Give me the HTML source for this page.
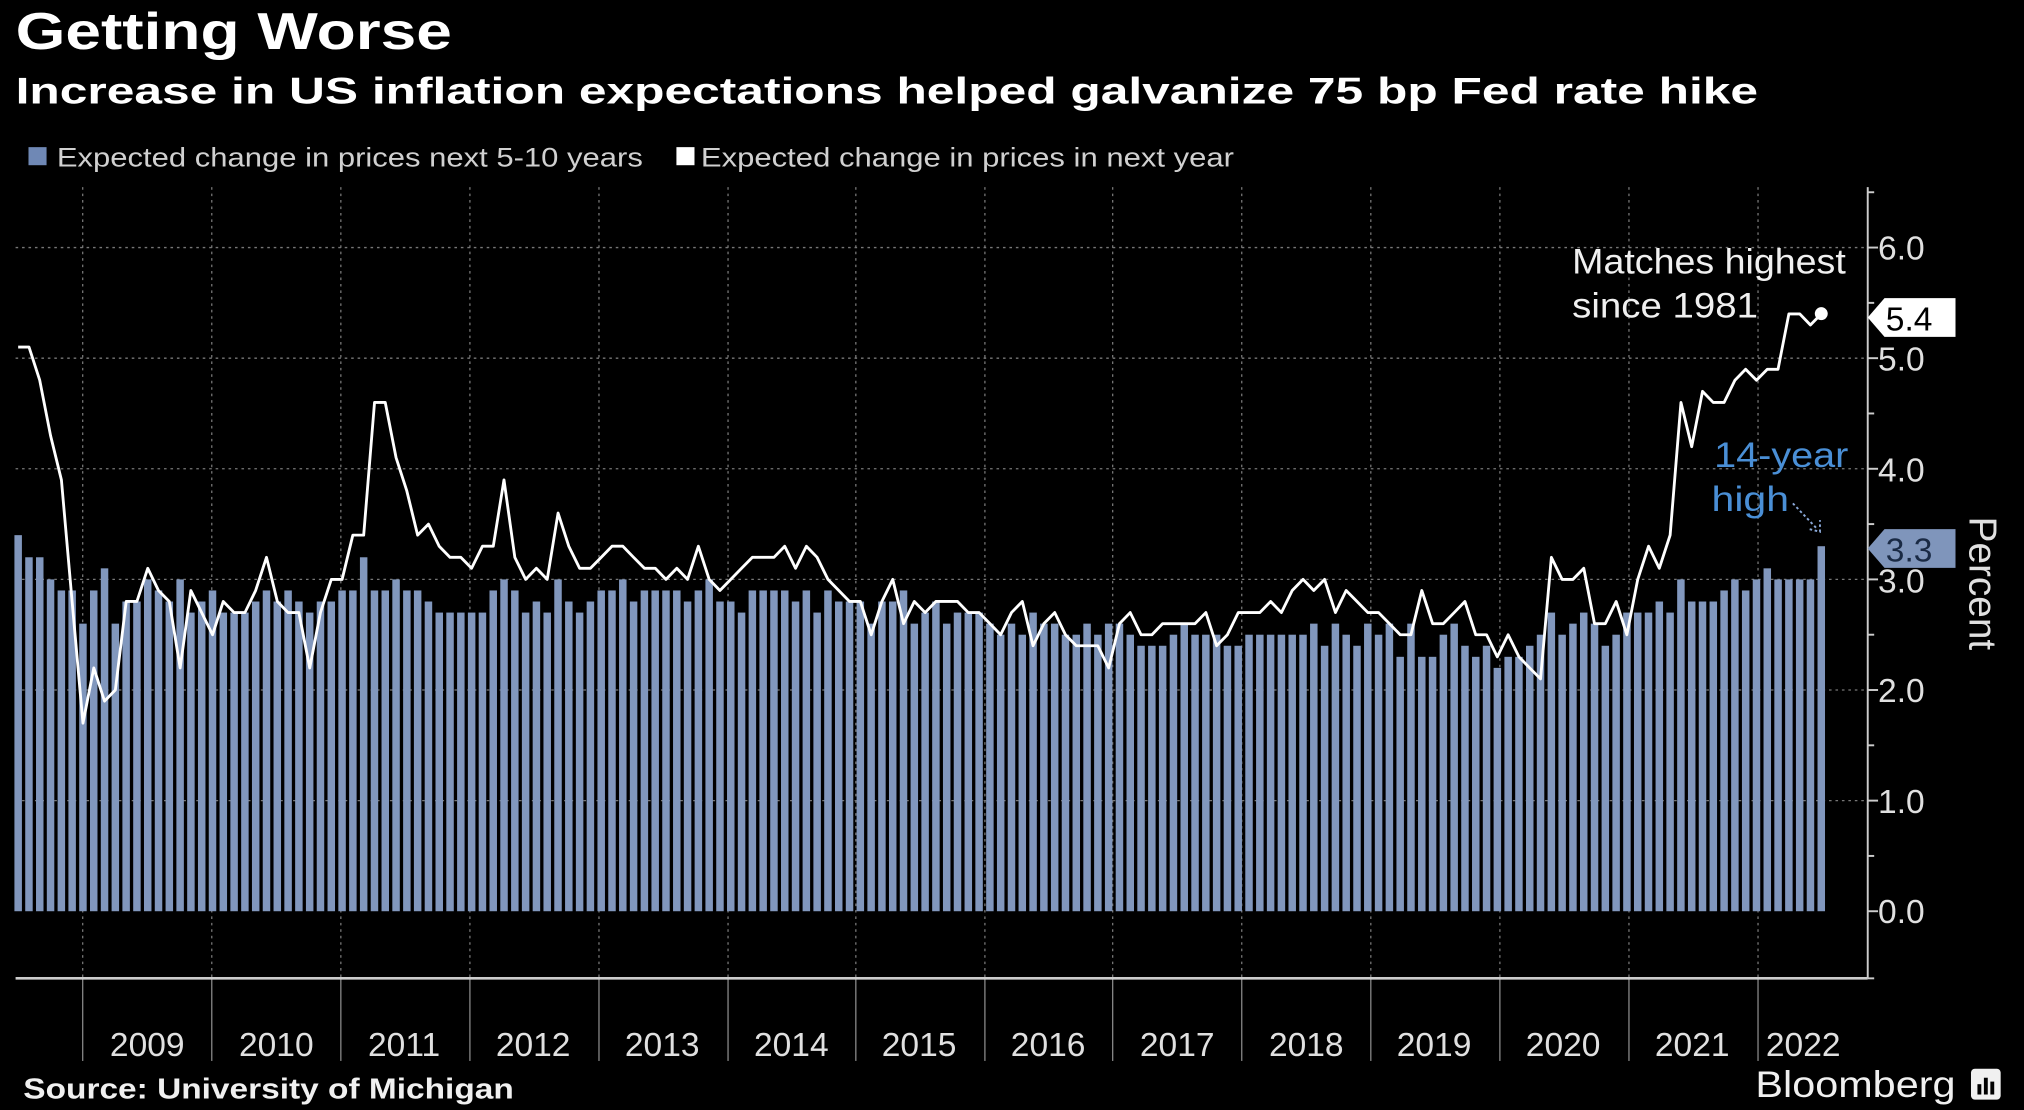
<!DOCTYPE html>
<html><head><meta charset="utf-8"><style>
html,body{margin:0;padding:0;background:#000;}
svg{display:block}
text{font-family:"Liberation Sans","DejaVu Sans",sans-serif;}
</style></head><body>
<svg id="s" width="2024" height="1110" viewBox="0 0 1568 860" xmlns="http://www.w3.org/2000/svg">
<rect x="0" y="0" width="1568" height="860" fill="#000"/>
<text x="12" y="38" font-size="40" font-weight="bold" fill="#fff" textLength="338" lengthAdjust="spacingAndGlyphs">Getting Worse</text>
<text x="12" y="80" font-size="29" font-weight="bold" fill="#fff" textLength="1350" lengthAdjust="spacingAndGlyphs">Increase in US inflation expectations helped galvanize 75 bp Fed rate hike</text>
<rect x="22" y="114" width="14" height="14" fill="#6f88b5"/>
<text x="44" y="129" font-size="21" fill="#d0d0d0" textLength="454" lengthAdjust="spacingAndGlyphs">Expected change in prices next 5-10 years</text>
<rect x="524" y="114" width="14" height="14" fill="#fff"/>
<text x="543" y="129" font-size="21" fill="#d0d0d0" textLength="413" lengthAdjust="spacingAndGlyphs">Expected change in prices in next year</text>
<g id="grid"></g>
<g id="bars"></g>
<polyline id="line" fill="none" stroke="#fff" stroke-width="2.2" stroke-linejoin="round"/>
<circle cx="1411" cy="243" r="5" fill="#fff"/>
<line x1="12" y1="758" x2="1447" y2="758" stroke="#ccc" stroke-width="2"/>
<line x1="1447" y1="145" x2="1447" y2="758" stroke="#ccc" stroke-width="1.5"/>
<g id="ticks"></g>
<g font-size="26" fill="#e0e0e0">
<text x="1455" y="201">6.0</text>
<text x="1455" y="287">5.0</text>
<text x="1455" y="373">4.0</text>
<text x="1455" y="459">3.0</text>
<text x="1455" y="544">2.0</text>
<text x="1455" y="630">1.0</text>
<text x="1455" y="715">0.0</text>
</g>
<path d="M1447 246 L1460 231 L1515 231 L1515 261 L1460 261 Z" fill="#fff"/>
<text x="1461" y="256" font-size="26" fill="#000">5.4</text>
<path d="M1447 425 L1460 410 L1515 410 L1515 440 L1460 440 Z" fill="#7f95bb"/>
<text x="1461" y="435" font-size="26" fill="#1a2a44">3.3</text>
<text transform="translate(1526,452) rotate(90)" font-size="30" fill="#e0e0e0" text-anchor="middle">Percent</text>
<text x="1218" y="212" font-size="27" fill="#f0f0f0" textLength="212" lengthAdjust="spacingAndGlyphs">Matches highest</text>
<text x="1218" y="246" font-size="27" fill="#f0f0f0" textLength="144" lengthAdjust="spacingAndGlyphs">since 1981</text>
<text x="1328" y="362" font-size="27" fill="#4a8fd6" textLength="104" lengthAdjust="spacingAndGlyphs">14-year</text>
<text x="1326" y="396" font-size="27" fill="#4a8fd6" textLength="60" lengthAdjust="spacingAndGlyphs">high</text>
<line x1="1389" y1="390" x2="1408" y2="410" stroke="#8aa8d8" stroke-width="1.5" stroke-dasharray="2,2"/>
<path d="M1402 410 L1410 412 L1410 403" fill="none" stroke="#8aa8d8" stroke-width="1.5" stroke-dasharray="2,2"/>
<g id="years" font-size="26" fill="#e0e0e0" text-anchor="middle">
<text x="114" y="818">2009</text><text x="214" y="818">2010</text><text x="313" y="818">2011</text>
<text x="413" y="818">2012</text><text x="513" y="818">2013</text><text x="613" y="818">2014</text>
<text x="712" y="818">2015</text><text x="812" y="818">2016</text><text x="912" y="818">2017</text>
<text x="1012" y="818">2018</text><text x="1111" y="818">2019</text><text x="1211" y="818">2020</text>
<text x="1311" y="818">2021</text><text x="1397" y="818">2022</text>
</g>
<text x="18" y="851" font-size="22" font-weight="bold" fill="#f0f0f0" textLength="380" lengthAdjust="spacingAndGlyphs">Source: University of Michigan</text>
<text x="1360" y="850" font-size="29" fill="#f0f0f0" textLength="155" lengthAdjust="spacingAndGlyphs">Bloomberg</text>
<rect x="1527" y="828" width="23" height="24" rx="3" fill="#f0f0f0"/>
<rect x="1532" y="840" width="3" height="8" fill="#000"/><rect x="1537" y="835" width="3" height="13" fill="#000"/><rect x="1542" y="838" width="3" height="10" fill="#000"/>
</svg>
<script>
var NS="http://www.w3.org/2000/svg";
function el(t,a,p){var e=document.createElementNS(NS,t);for(var k in a)e.setAttribute(k,a[k]);document.getElementById(p).appendChild(e);return e;}
function Y(v){return 706-85.7*v;}
// grid
for(var v=1;v<=6;v++){el("line",{x1:12,x2:1447,y1:Y(v),y2:Y(v),stroke:"#777","stroke-width":1,"stroke-dasharray":"2,3"},"grid");}
var yb=[64,164,264,364,464,564,663,763,862,962,1062,1162,1262,1362];
yb.forEach(function(x){
 el("line",{x1:x,x2:x,y1:145,y2:758,stroke:"#777","stroke-width":1,"stroke-dasharray":"2,3"},"grid");
 el("line",{x1:x,x2:x,y1:758,y2:822,stroke:"#888","stroke-width":1},"grid");
});
for(var v=0;v<=7;v+=0.5){var y=Y(v);if(y<145)break;el("line",{x1:1447,x2:(v%1==0?1455:1452),y1:y,y2:y,stroke:"#ccc","stroke-width":1.5},"ticks");}
el("line",{x1:1447,x2:1452,y1:758,y2:758,stroke:"#ccc","stroke-width":1.5},"ticks");
var bars=[3.4,3.2,3.2,3.0,2.9,2.9,
2.6,2.9,3.1,2.6,2.8,2.8,3.0,2.9,2.8,3.0,2.7,2.8,
2.9,2.7,2.7,2.7,2.8,2.9,2.8,2.9,2.8,2.7,2.8,2.8,
2.9,2.9,3.2,2.9,2.9,3.0,2.9,2.9,2.8,2.7,2.7,2.7,
2.7,2.7,2.9,3.0,2.9,2.7,2.8,2.7,3.0,2.8,2.7,2.8,
2.9,2.9,3.0,2.8,2.9,2.9,2.9,2.9,2.8,2.9,3.0,2.8,
2.8,2.7,2.9,2.9,2.9,2.9,2.8,2.9,2.7,2.9,2.8,2.8,
2.8,2.6,2.8,2.8,2.9,2.6,2.7,2.8,2.6,2.7,2.7,2.7,
2.6,2.5,2.6,2.5,2.7,2.6,2.6,2.5,2.5,2.6,2.5,2.6,
2.6,2.5,2.4,2.4,2.4,2.5,2.6,2.5,2.5,2.5,2.4,2.4,
2.5,2.5,2.5,2.5,2.5,2.5,2.6,2.4,2.6,2.5,2.4,2.6,
2.5,2.6,2.3,2.6,2.3,2.3,2.5,2.6,2.4,2.3,2.4,2.2,
2.3,2.3,2.4,2.5,2.7,2.5,2.6,2.7,2.6,2.4,2.5,2.7,
2.7,2.7,2.8,2.7,3.0,2.8,2.8,2.8,2.9,3.0,2.9,3.0,
3.1,3.0,3.0,3.0,3.0,3.3];
var line=[5.1,5.1,4.8,4.3,3.9,2.8,
1.7,2.2,1.9,2.0,2.8,2.8,3.1,2.9,2.8,2.2,2.9,2.7,
2.5,2.8,2.7,2.7,2.9,3.2,2.8,2.7,2.7,2.2,2.7,3.0,
3.0,3.4,3.4,4.6,4.6,4.1,3.8,3.4,3.5,3.3,3.2,3.2,
3.1,3.3,3.3,3.9,3.2,3.0,3.1,3.0,3.6,3.3,3.1,3.1,
3.2,3.3,3.3,3.2,3.1,3.1,3.0,3.1,3.0,3.3,3.0,2.9,
3.0,3.1,3.2,3.2,3.2,3.3,3.1,3.3,3.2,3.0,2.9,2.8,
2.8,2.5,2.8,3.0,2.6,2.8,2.7,2.8,2.8,2.8,2.7,2.7,
2.6,2.5,2.7,2.8,2.4,2.6,2.7,2.5,2.4,2.4,2.4,2.2,
2.6,2.7,2.5,2.5,2.6,2.6,2.6,2.6,2.7,2.4,2.5,2.7,
2.7,2.7,2.8,2.7,2.9,3.0,2.9,3.0,2.7,2.9,2.8,2.7,
2.7,2.6,2.5,2.5,2.9,2.6,2.6,2.7,2.8,2.5,2.5,2.3,
2.5,2.3,2.2,2.1,3.2,3.0,3.0,3.1,2.6,2.6,2.8,2.5,
3.0,3.3,3.1,3.4,4.6,4.2,4.7,4.6,4.6,4.8,4.9,4.8,
4.9,4.9,5.4,5.4,5.3,5.4];
var x0=14,st=(1411-14)/167,pts=[];
for(var i=0;i<bars.length;i++){var x=x0+i*st;
 el("rect",{x:x-2.9,y:Y(bars[i]),width:5.8,height:706-Y(bars[i]),fill:"#8197bd"},"bars");}
for(var i=0;i<line.length;i++){pts.push((x0+i*st).toFixed(1)+","+Y(line[i]).toFixed(1));}
document.getElementById("line").setAttribute("points",pts.join(" "));
</script>
</body></html>
